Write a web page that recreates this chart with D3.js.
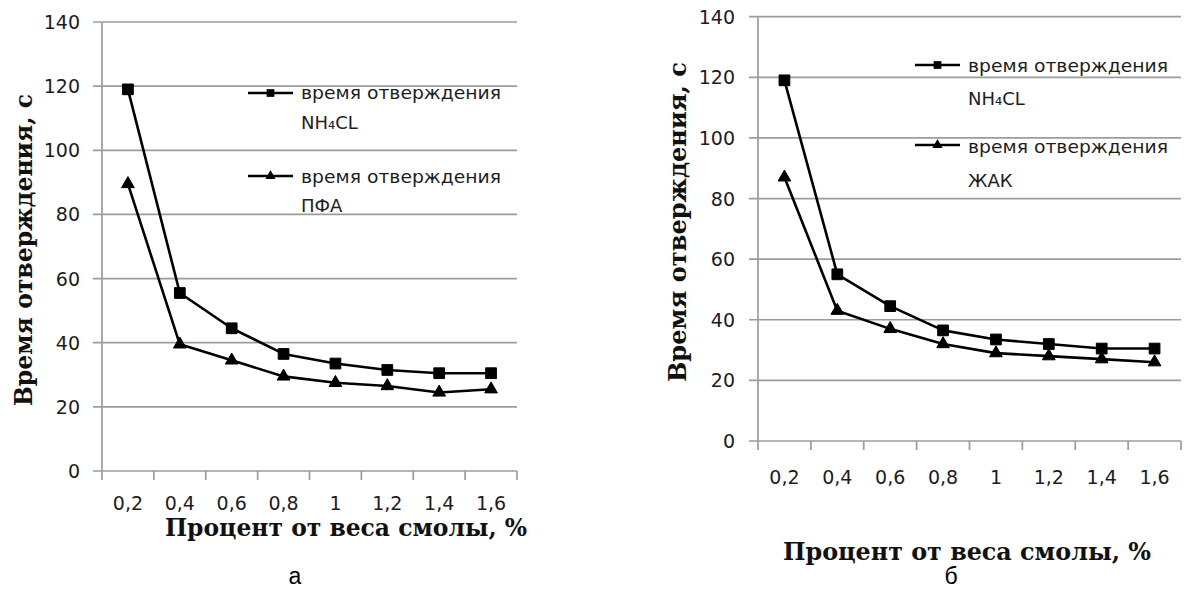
<!DOCTYPE html>
<html>
<head>
<meta charset="utf-8">
<script src="https://cdn.jsdelivr.net/npm/d3@7/dist/d3.min.js"></script>
<style>
  html, body { margin: 0; padding: 0; background: #fff; }
  svg { display: block; }
</style>
</head>
<body>
<svg id="chart" width="1184" height="590"></svg>
<script>
// ---------- DATA ----------
const categories = ["0,2", "0,4", "0,6", "0,8", "1", "1,2", "1,4", "1,6"];
const yTickValues = [0, 20, 40, 60, 80, 100, 120, 140];

const leftNH4CL = [119, 55.5, 44.5, 36.5, 33.5, 31.5, 30.5, 30.5];
const leftPFA   = [89.5, 39.5, 34.5, 29.5, 27.5, 26.5, 24.5, 25.5];

const rightNH4CL = [119, 55, 44.5, 36.5, 33.5, 32, 30.5, 30.5];
const rightJAK   = [87, 43, 37, 32, 29, 28, 27, 26];

const legendNames = ["время отверждения", "NH₄CL", "ПФА", "ЖАК"];
const yTitle = "Время отверждения, с";
const xTitle = "Процент от веса смолы, %";
const captions = ["а", "б"];

// ---------- DRAWING ----------
const svg = d3.select("#chart");
const GRID = "#9c9c9c";
const TXT = "#1c1c24";
const sans = "'DejaVu Sans', sans-serif";
const serif = "'DejaVu Serif', serif";

function drawChart(cfg) {
  const g = svg.append("g");
  const x = d3.scaleBand().domain(categories).range([cfg.left, cfg.right]);
  const y = d3.scaleLinear().domain([0, 140]).range([cfg.bottom, cfg.top]);

  // gridlines
  g.append("g").selectAll("line").data(yTickValues).join("line")
    .attr("x1", cfg.left - 9).attr("x2", cfg.right)
    .attr("y1", d => y(d)).attr("y2", d => y(d))
    .attr("stroke", GRID).attr("stroke-width", 1.7);

  // y axis line
  g.append("line").attr("x1", cfg.left).attr("x2", cfg.left)
    .attr("y1", cfg.top).attr("y2", cfg.bottom)
    .attr("stroke", GRID).attr("stroke-width", 1.7);

  // x axis ticks at band boundaries
  const bounds = categories.map(c => x(c)).concat([cfg.right]);
  g.append("g").selectAll("line").data(bounds).join("line")
    .attr("x1", d => d).attr("x2", d => d)
    .attr("y1", cfg.bottom).attr("y2", cfg.bottom + 9)
    .attr("stroke", GRID).attr("stroke-width", 1.7);

  // y tick labels
  g.append("g").selectAll("text").data(yTickValues).join("text")
    .attr("x", cfg.yLabelRight).attr("y", d => y(d))
    .attr("text-anchor", "end").attr("dominant-baseline", "central")
    .attr("font-family", sans).attr("font-size", 19).attr("fill", TXT)
    .text(d => d);

  // x tick labels
  g.append("g").selectAll("text").data(categories).join("text")
    .attr("x", d => x(d) + x.bandwidth() / 2).attr("y", cfg.bottom + cfg.xLabelOffset)
    .attr("text-anchor", "middle").attr("dominant-baseline", "central")
    .attr("font-family", sans).attr("font-size", 19).attr("fill", TXT)
    .text(d => d);

  // axis titles
  g.append("text")
    .attr("transform", `translate(${cfg.yTitleX},${cfg.yTitleY}) rotate(-90)`)
    .attr("text-anchor", "middle").attr("dominant-baseline", "central")
    .attr("font-family", serif).attr("font-weight", "bold").attr("font-size", 24)
    .attr("fill", "#111")
    .attr("textLength", cfg.yTitleLen).attr("lengthAdjust", "spacingAndGlyphs")
    .text(yTitle);
  g.append("text")
    .attr("x", cfg.xTitleX).attr("y", cfg.xTitleY)
    .attr("text-anchor", "middle").attr("dominant-baseline", "central")
    .attr("font-family", serif).attr("font-weight", "bold").attr("font-size", 24)
    .attr("fill", "#111")
    .attr("textLength", cfg.xTitleLen).attr("lengthAdjust", "spacingAndGlyphs")
    .text(xTitle);

  // caption
  g.append("text")
    .attr("x", cfg.captionX).attr("y", 584)
    .attr("text-anchor", "middle")
    .attr("font-family", "'Liberation Sans', Arial, sans-serif").attr("font-size", 23)
    .attr("fill", "#000").text(cfg.caption);

  const line = d3.line().x((d, i) => x(categories[i]) + x.bandwidth() / 2).y(d => y(d));
  const square = d3.symbol().type(d3.symbolSquare).size(115);
  const tri = d3.symbol().type(d3.symbolTriangle).size(70);

  cfg.series.forEach(s => {
    g.append("path").datum(s.values).attr("d", line)
      .attr("fill", "none").attr("stroke", "#000").attr("stroke-width", 2.6)
      .attr("stroke-linejoin", "round");
    g.append("g").selectAll("path").data(s.values).join("path")
      .attr("transform", (d, i) => `translate(${x(categories[i]) + x.bandwidth() / 2},${y(d)})`)
      .attr("d", s.marker === "square" ? square : tri)
      .attr("fill", "#000").attr("stroke", "#000").attr("stroke-width", 1)
      .attr("stroke-linejoin", "round");
  });

  // legend
  const lsq = d3.symbol().type(d3.symbolSquare).size(60);
  const ltri = d3.symbol().type(d3.symbolTriangle).size(45);
  cfg.legend.forEach((it, k) => {
    const s = cfg.series[k];
    g.append("line").attr("x1", cfg.legendX).attr("x2", cfg.legendX + 45)
      .attr("y1", it.lineY).attr("y2", it.lineY)
      .attr("stroke", "#000").attr("stroke-width", 2.6);
    g.append("path")
      .attr("transform", `translate(${cfg.legendX + 22.5},${it.lineY})`)
      .attr("d", s.marker === "square" ? lsq : ltri).attr("fill", "#000");
    g.append("text").attr("x", cfg.legendX + 53).attr("y", it.base1)
      .attr("font-family", sans).attr("font-size", 18).attr("fill", TXT)
      .attr("textLength", 200).attr("lengthAdjust", "spacingAndGlyphs")
      .text(legendNames[0]);
    g.append("text").attr("x", cfg.legendX + 53).attr("y", it.base2)
      .attr("font-family", sans).attr("font-size", 18).attr("fill", TXT)
      .text(s.name);
  });
}

drawChart({
  left: 102, right: 517, top: 22, bottom: 471,
  yLabelRight: 80, xLabelOffset: 32,
  yTitleX: 23, yTitleY: 250, yTitleLen: 312,
  xTitleX: 346, xTitleY: 527, xTitleLen: 362,
  captionX: 295, caption: captions[0],
  series: [
    { name: legendNames[1], values: leftNH4CL, marker: "square" },
    { name: legendNames[2], values: leftPFA, marker: "triangle" }
  ],
  legendX: 248,
  legend: [ { lineY: 93, base1: 99, base2: 129 }, { lineY: 176, base1: 183, base2: 212 } ]
});

drawChart({
  left: 758, right: 1181, top: 16.7, bottom: 441,
  yLabelRight: 735, xLabelOffset: 36,
  yTitleX: 677, yTitleY: 222, yTitleLen: 320,
  xTitleX: 967, xTitleY: 551, xTitleLen: 368,
  captionX: 951, caption: captions[1],
  series: [
    { name: legendNames[1], values: rightNH4CL, marker: "square" },
    { name: legendNames[3], values: rightJAK, marker: "triangle" }
  ],
  legendX: 915,
  legend: [ { lineY: 65, base1: 72, base2: 105 }, { lineY: 145, base1: 153, base2: 187 } ]
});
</script>
</body>
</html>
